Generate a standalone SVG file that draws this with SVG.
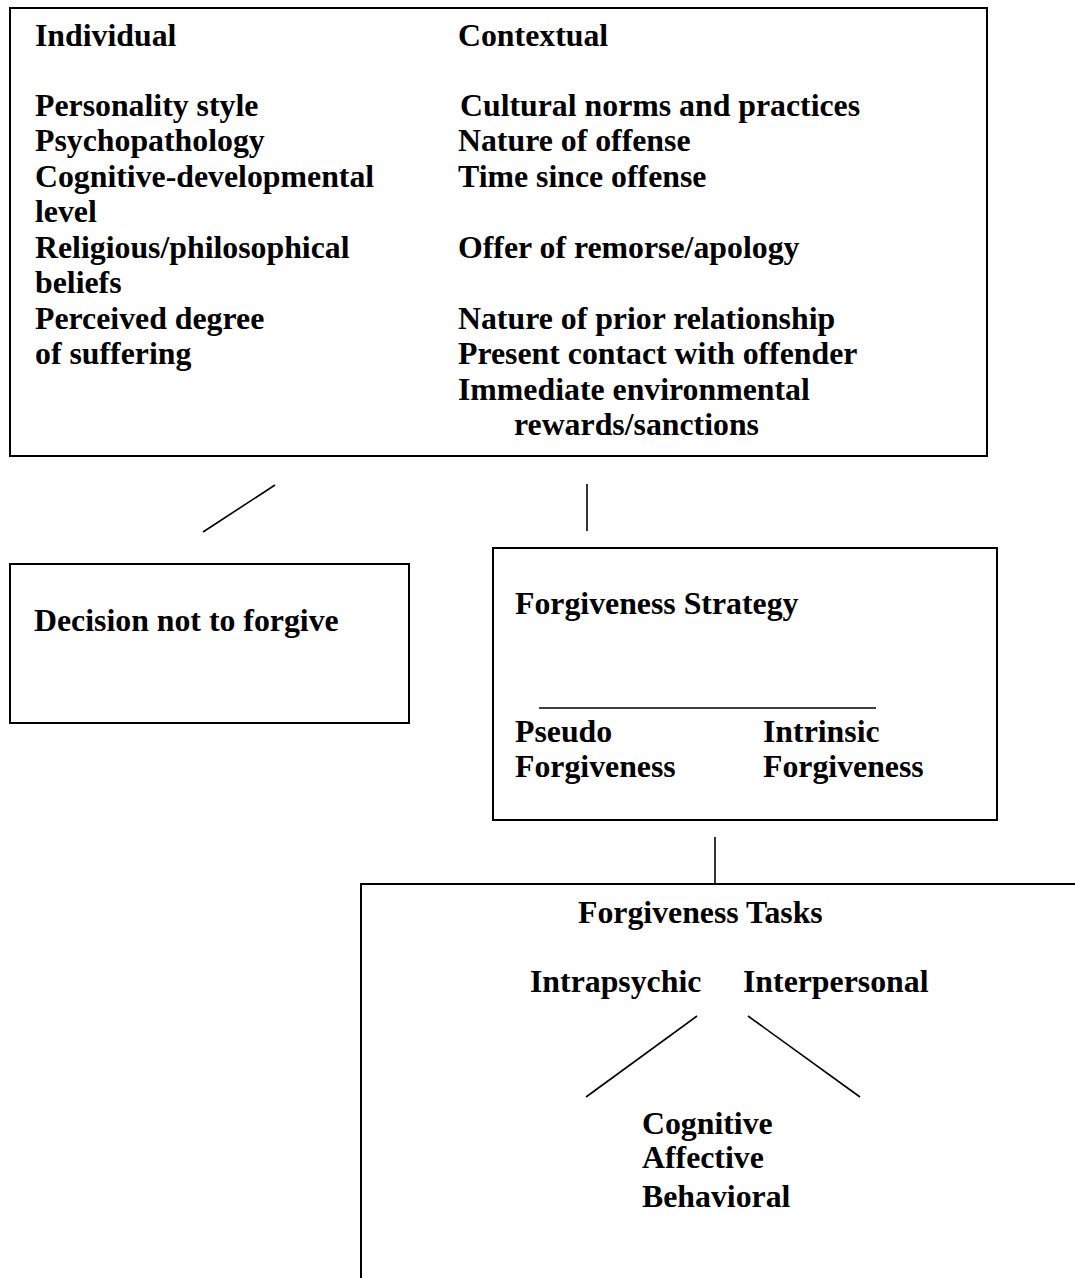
<svg xmlns="http://www.w3.org/2000/svg" width="1075" height="1278" viewBox="0 0 1075 1278">
<style>
text{font-family:"Liberation Serif","Times New Roman",Times,serif;font-weight:bold;font-size:31.8px;fill:#000}
.box{fill:none;stroke:#000;stroke-width:2}
.ln{stroke:#000;stroke-width:1.6;fill:none}
</style>
<rect width="1075" height="1278" fill="#fff"/>
<g id="factors">
<rect class="box" x="10" y="8" width="977" height="448"/>
<text x="35" y="46">Individual</text>
<text x="35" y="116">Personality style</text>
<text x="35" y="151">Psychopathology</text>
<text x="35" y="187">Cognitive-developmental</text>
<text x="35" y="222">level</text>
<text x="35" y="258">Religious/philosophical</text>
<text x="35" y="293">beliefs</text>
<text x="35" y="329">Perceived degree</text>
<text x="35" y="364">of suffering</text>
<text x="458" y="46">Contextual</text>
<text x="460" y="116">Cultural norms and practices</text>
<text x="458" y="151">Nature of offense</text>
<text x="458" y="187">Time since offense</text>
<text x="458" y="258">Offer of remorse/apology</text>
<text x="458" y="329">Nature of prior relationship</text>
<text x="458" y="364">Present contact with offender</text>
<text x="458" y="400">Immediate environmental</text>
<text x="514" y="435">rewards/sanctions</text>
</g>
<g id="decision">
<rect class="box" x="10" y="564" width="399" height="159"/>
<text x="34" y="631">Decision not to forgive</text>
</g>
<g id="strategy">
<rect class="box" x="493" y="548" width="504" height="272"/>
<text x="515" y="614">Forgiveness Strategy</text>
<line class="ln" x1="539" y1="708" x2="876" y2="708"/>
<text x="515" y="742">Pseudo</text>
<text x="515" y="777">Forgiveness</text>
<text x="763" y="742">Intrinsic</text>
<text x="763" y="777">Forgiveness</text>
</g>
<g id="tasks">
<rect class="box" x="361" y="884" width="800" height="500"/>
<text x="578" y="923">Forgiveness Tasks</text>
<text x="530" y="992">Intrapsychic</text>
<text x="743" y="992">Interpersonal</text>
<line class="ln" x1="697" y1="1016" x2="586" y2="1097"/>
<line class="ln" x1="748" y1="1016" x2="860" y2="1097"/>
<text x="642" y="1134">Cognitive</text>
<text x="642" y="1168">Affective</text>
<text x="642" y="1207">Behavioral</text>
</g>
<g id="connectors">
<line class="ln" x1="275" y1="485" x2="203" y2="532"/>
<line class="ln" x1="587" y1="484" x2="587" y2="531"/>
<line class="ln" x1="715" y1="837" x2="715" y2="884"/>
</g>
</svg>
